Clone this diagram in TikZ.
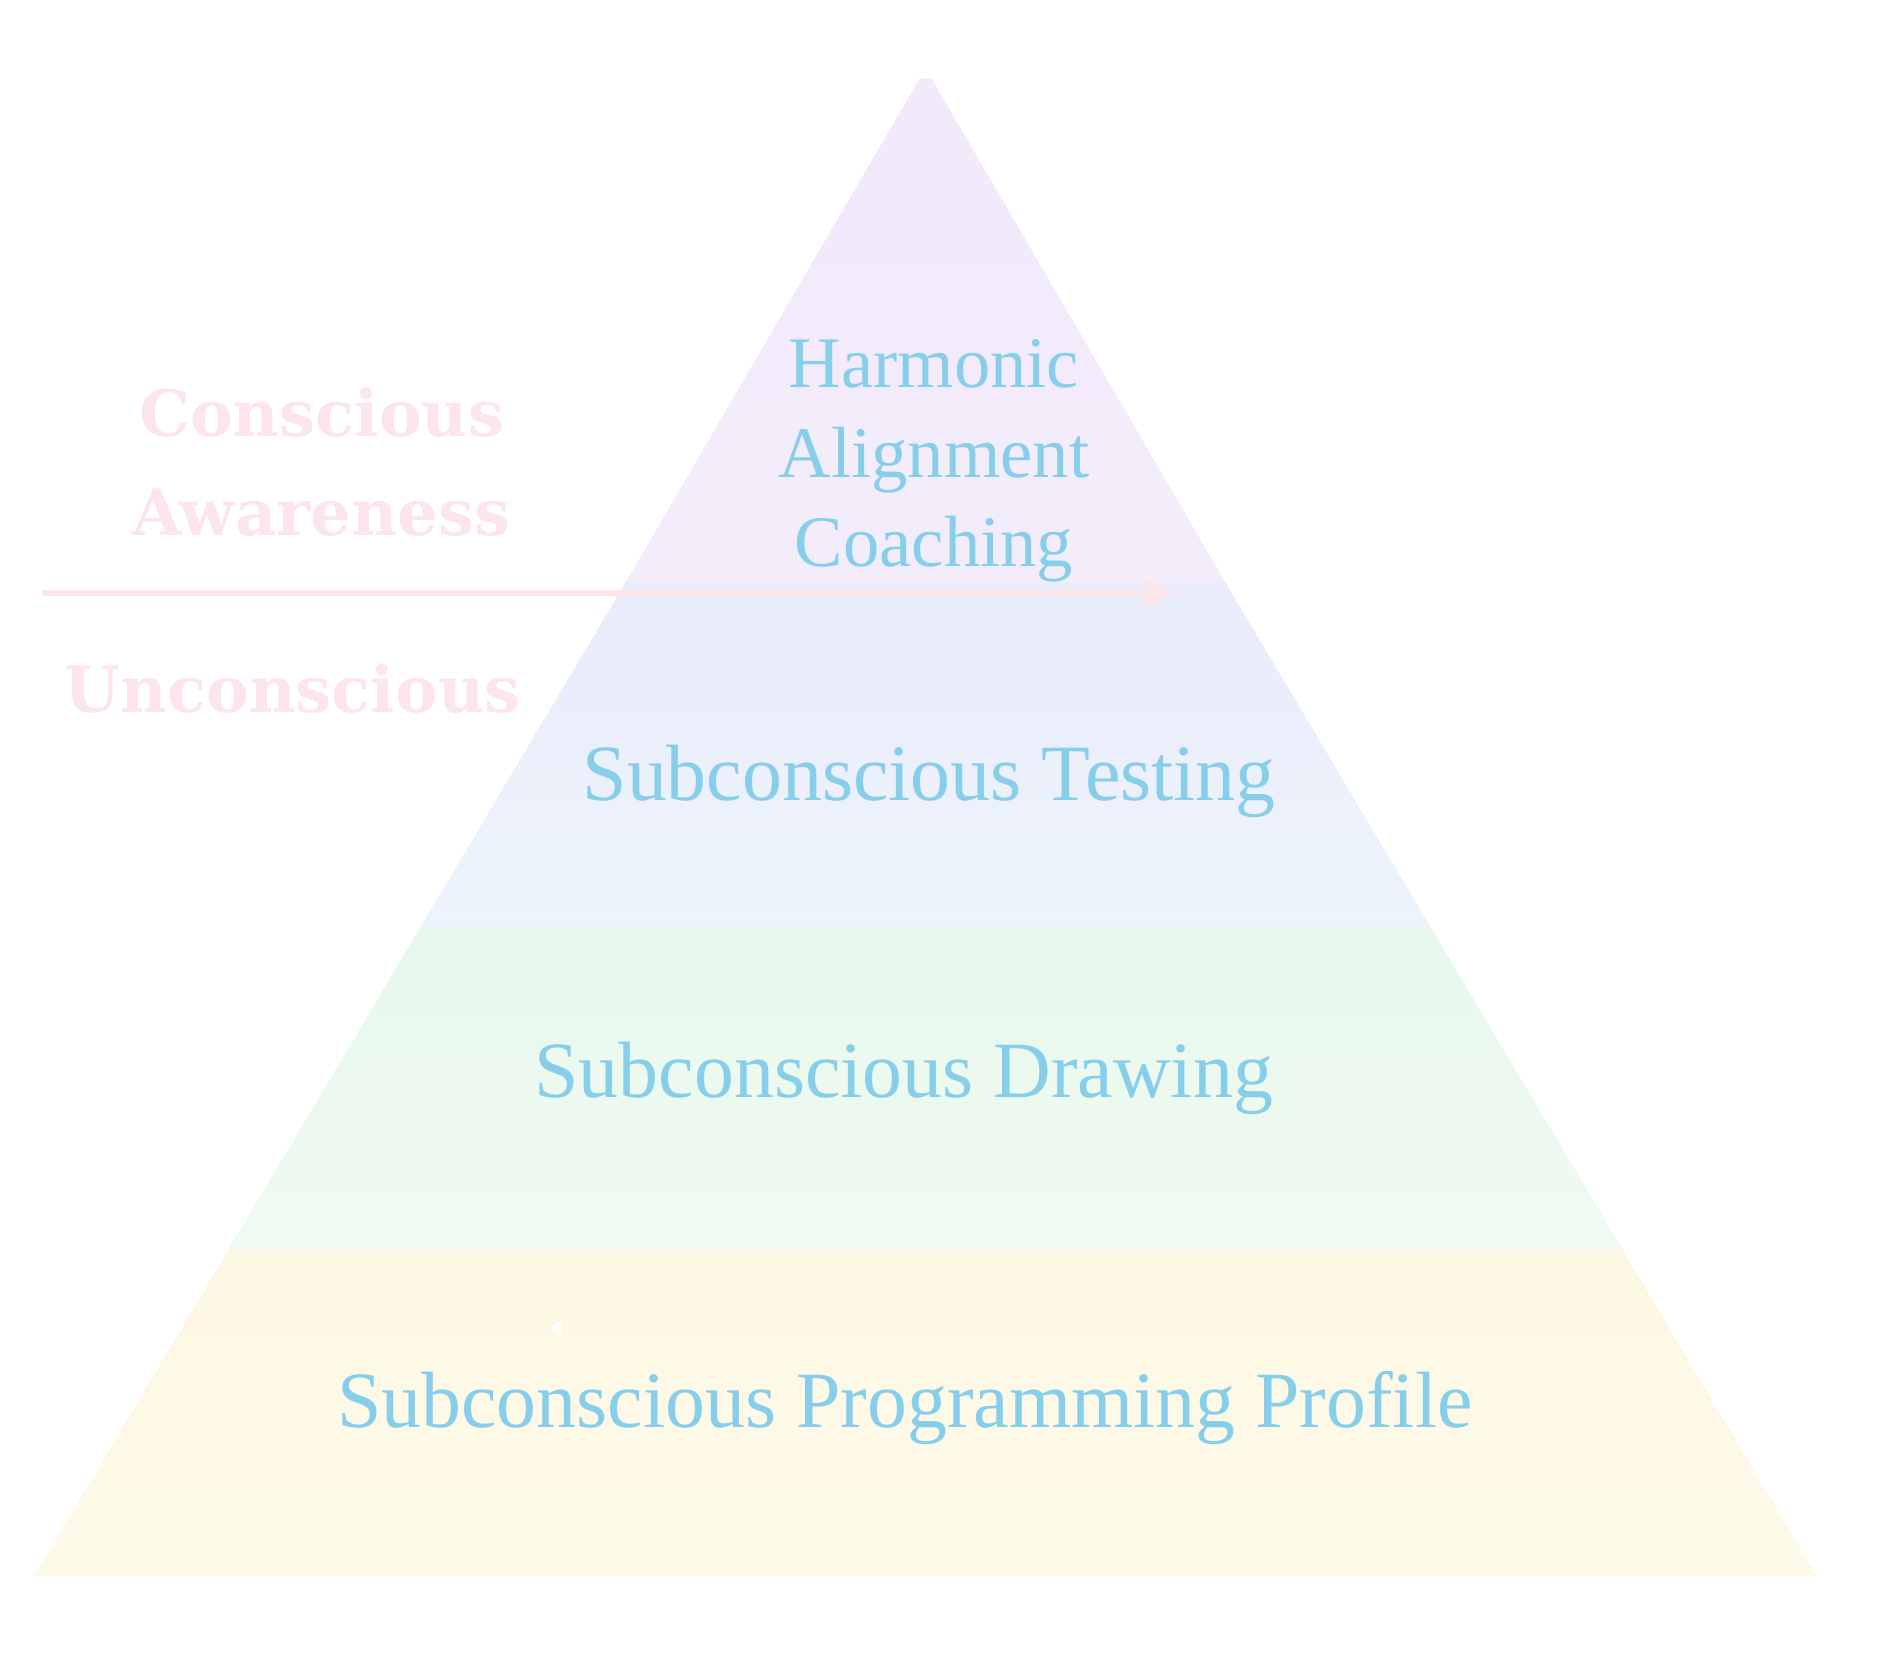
\documentclass[tikz,border=0pt]{standalone}
\usepackage{fontspec}
\setmainfont{Liberation Serif}
\newfontfamily\pinkfont{DejaVu Serif}
\usetikzlibrary{arrows.meta}
\definecolor{labblue}{HTML}{87CEEB}
\definecolor{labpink}{HTML}{FDE6EB}
\definecolor{arrpink}{HTML}{FDE6E9}
\definecolor{bandAt}{HTML}{F2E9FB}
\definecolor{bandAb}{HTML}{F3EDFB}
\definecolor{bandBt}{HTML}{E9EBFB}
\definecolor{bandBb}{HTML}{EDF4FB}
\definecolor{bandCt}{HTML}{E7F8EC}
\definecolor{bandCb}{HTML}{F0FAF2}
\definecolor{bandDt}{HTML}{FDF8E3}
\definecolor{bandDb}{HTML}{FEFAEA}
\tikzset{
  lab/.style={text=labblue, inner sep=0pt, align=center},
  sidelab/.style={text=labpink, inner sep=0pt, align=center, font=\pinkfont\bfseries\fontsize{26.5}{41}\selectfont},
  bigtext/.style={font=\fontsize{33}{40}\selectfont},
  pinkarrow/.style={draw=arrpink, line width=2.5pt, -{Triangle[length=12pt,width=12pt]}}
}
\begin{document}
\begin{tikzpicture}[x=0.5pt,y=-0.5pt]
\useasboundingbox (0,0) rectangle (1568,1375);
% bands
\shade[top color=bandAt, bottom color=bandAb] (760,65) -- (770,65) -- (1013.2,482) -- (516.8,482) -- cycle;
\shade[top color=bandBt, bottom color=bandBb] (516.8,482) -- (1013.2,482) -- (1182.9,767) -- (347.1,767) -- cycle;
\shade[top color=bandCt, bottom color=bandCb] (347.1,767) -- (1182.9,767) -- (1341.3,1033) -- (188.7,1033) -- cycle;
\shade[top color=bandDt, bottom color=bandDb] (188.7,1033) -- (1341.3,1033) -- (1502,1303) -- (28,1303) -- cycle;
% small white tip
\fill[white] (455,1097) -- (464,1091) -- (464,1103) -- cycle;
% labels
\node[lab, font=\fontsize{30}{37}\selectfont] (harm) at (772,381) {Harmonic\\Alignment\\Coaching};
\node[lab, bigtext] (test) at (768,646) {Subconscious Testing};
\node[lab, bigtext] (draw) at (747,891) {Subconscious Drawing};
\node[lab, bigtext] (prof) at (748,1164) {Subconscious Programming Profile};
\node[sidelab] (consc) at (266,382) {Conscious\\Awareness};
\node[sidelab] (uncon) at (242,569) {Unconscious};
% arrow
\coordinate (arrS) at (35,490);
\coordinate (arrE) at (971,490);
\draw[pinkarrow] (arrS) -- (arrE);
\end{tikzpicture}
\end{document}
